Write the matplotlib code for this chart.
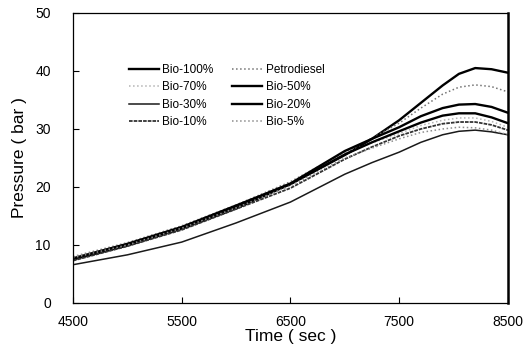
import numpy as np
import matplotlib
matplotlib.use("Agg")
import matplotlib.pyplot as plt

plt.rcParams['font.family'] = ['Liberation Sans', 'DejaVu Sans']

# time axis (sec)
time = [4500, 5000, 5500, 6000, 6500, 7000, 7250, 7500, 7700, 7900, 8050, 8200, 8350, 8500]

# pressure (bar)
bio100 = [7.5, 9.9, 12.8, 16.3, 20.5, 25.5, 28.3, 31.5, 34.5, 37.5, 39.5, 40.5, 40.3, 39.7]
petro = [8.0, 10.4, 13.3, 16.9, 20.9, 26.0, 28.4, 31.0, 33.6, 36.0, 37.2, 37.6, 37.3, 36.4]
bio70 = [7.9, 10.3, 13.2, 16.9, 20.7, 25.9, 27.6, 29.2, 30.6, 31.5, 31.9, 31.9, 31.3, 30.3]
bio50 = [7.6, 10.1, 13.0, 16.7, 20.6, 26.2, 28.3, 30.3, 32.2, 33.6, 34.2, 34.3, 33.8, 32.8]
bio30 = [6.6, 8.3, 10.5, 13.8, 17.4, 22.2, 24.2, 26.0, 27.7, 29.0, 29.6, 29.8, 29.5, 29.0]
bio20 = [7.7, 10.2, 13.1, 16.8, 20.5, 25.6, 27.7, 29.6, 31.1, 32.3, 32.7, 32.7, 32.0, 31.0]
bio10 = [7.3, 9.8, 12.6, 16.2, 19.8, 24.8, 26.9, 28.8, 30.0, 30.9, 31.2, 31.2, 30.7, 29.8]
bio5 = [7.8, 10.0, 12.9, 16.4, 20.2, 25.0, 26.7, 28.3, 29.4, 30.0, 30.3, 30.2, 29.8, 29.0]

fig = plt.figure(figsize=(5.29, 3.55), dpi=100)
ax = fig.add_axes([0.138, 0.1465, 0.822, 0.817])

h = {}
h['Bio-100%'], = ax.plot(time, bio100, color='black', lw=1.7)
h['Petrodiesel'], = ax.plot(time, petro, color='0.45', lw=1.1, ls=':')
h['Bio-70%'], = ax.plot(time, bio70, color='0.7', lw=1.1, ls=':')
h['Bio-50%'], = ax.plot(time, bio50, color='black', lw=1.7)
h['Bio-30%'], = ax.plot(time, bio30, color='0.1', lw=1.1)
h['Bio-20%'], = ax.plot(time, bio20, color='black', lw=1.7)
h['Bio-10%'], = ax.plot(time, bio10, color='0.2', lw=1.3, dashes=(2, 0.6))
h['Bio-5%'], = ax.plot(time, bio5, color='0.55', lw=1.1, ls=':')

order = ['Bio-100%', 'Bio-70%', 'Bio-30%', 'Bio-10%',
         'Petrodiesel', 'Bio-50%', 'Bio-20%', 'Bio-5%']
ax.legend([h[k] for k in order], order, ncol=2, frameon=False,
          loc='upper left', bbox_to_anchor=(0.105, 0.86),
          fontsize=8.5, handlelength=2.5, handletextpad=0.3,
          columnspacing=1.6, labelspacing=0.45)

ax.set_xlim(4500, 8500)
ax.set_ylim(0, 50)
ax.set_xticks([4500, 5500, 6500, 7500, 8500])
ax.set_yticks([0, 10, 20, 30, 40, 50])
ax.tick_params(direction='in', length=4, width=0.8, labelsize=10)
ax.tick_params(axis='x', pad=8.5)
ax.tick_params(axis='y', pad=16)
ax.spines['right'].set_linewidth(1.8)
for s in ['left', 'top', 'bottom']:
    ax.spines[s].set_linewidth(0.9)
ax.set_xlabel('Time ( sec )', fontsize=12.5, labelpad=0)
ax.set_ylabel('Pressure ( bar )', fontsize=12.5, labelpad=6)

fig.savefig('out.png', dpi=100)
